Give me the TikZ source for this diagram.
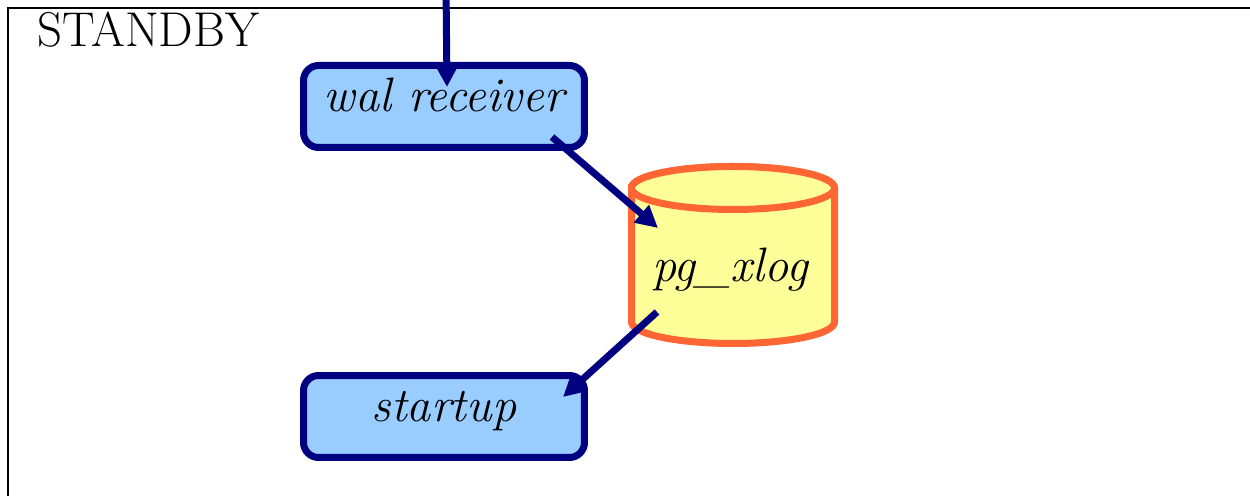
\documentclass[tikz,border=0pt]{standalone}
\usetikzlibrary{arrows.meta,calc}
\definecolor{navyline}{RGB}{0,0,128}
\definecolor{boxfill}{RGB}{153,204,255}
\definecolor{cylline}{RGB}{255,102,51}
\definecolor{cylfill}{RGB}{255,255,153}
\begin{document}
\begin{tikzpicture}[x=0.02cm,y=0.02cm,
  itfont/.style={font=\fontsize{27.5}{32}\selectfont\itshape},
  procbox/.style={draw=navyline,fill=boxfill,line width=0.14cm,rounded corners=0.3cm,
    minimum width=5.62cm,minimum height=1.64cm,inner sep=0pt,
    text height=0.7cm,text depth=0.5cm,itfont},
  flow/.style={draw=navyline,line width=0.14cm,-{Triangle[length=0.44cm,width=0.44cm]}},
  cylstyle/.style={draw=cylline,fill=cylfill,line width=0.14cm}]
\useasboundingbox (0,0) rectangle (1250,496);
\fill[white] (0,0) rectangle (1250,496);
% frame
\draw[line width=0.04cm] (8,-20) -- (8,488) -- (1280,488);
\node[anchor=base west,inner sep=0pt,font=\fontsize{27.8}{33}\selectfont] (title) at (37,449) {STANDBY};
% cylinder
\coordinate (cyl) at (733,241);
\filldraw[cylstyle] (631.5,308) -- (631.5,174)
  arc[start angle=180,end angle=360,x radius=101.5,y radius=21.5]
  -- (834.5,308) arc[start angle=0,end angle=180,x radius=101.5,y radius=21.5] -- cycle;
\draw[cylstyle] (733,308) ellipse [x radius=101.5,y radius=21.5];
\node[anchor=base,inner sep=0pt,itfont] (xlog) at (730,214) {pg\_xlog};
% boxes
\node[procbox] (wal) at (444,389.5) {wal receiver};
\node[procbox] (startup) at (444,79.5) {startup};
% arrows
\coordinate (feed) at (446,510);
\draw[flow] (feed) -- ($(wal.center)+(3,19.5)$);
\draw[flow] ($(wal.center)+(108,-30.5)$) -- ($(cyl)+(-75,27)$);
\draw[flow] ($(cyl)+(-76,-57)$) -- ($(startup.center)+(119,19.5)$);
\end{tikzpicture}
\end{document}
